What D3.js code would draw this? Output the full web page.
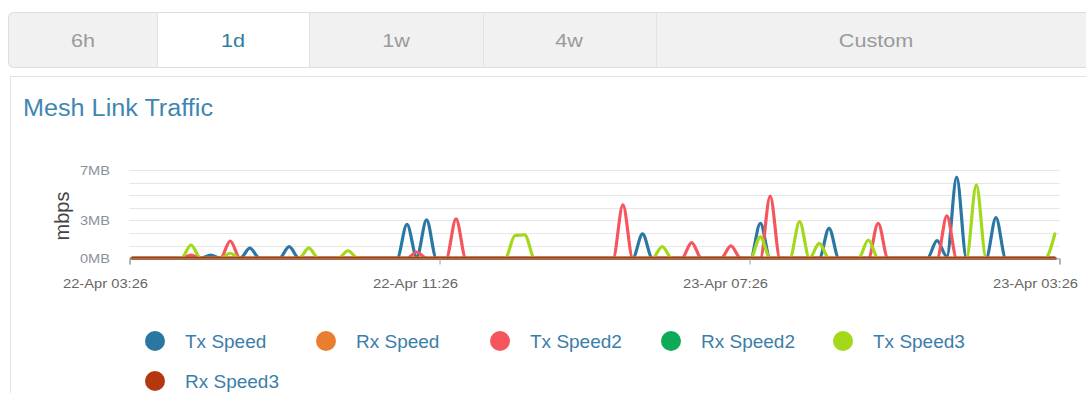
<!DOCTYPE html>
<html>
<head>
<meta charset="utf-8">
<script src="https://cdn.jsdelivr.net/npm/d3@7"></script>
<style>
  html, body { margin: 0; padding: 0; background: #fff; }
  svg { display: block; font-family: "Liberation Sans", Arial, sans-serif; }
</style>
</head>
<body>
<svg id="view" width="1086" height="393"></svg>
<script>
// ---- data ----
const tabs = ["6h", "1d", "1w", "4w", "Custom"];
const activeTab = "1d";

const seriesNames = ["Tx Speed", "Rx Speed", "Tx Speed2", "Rx Speed2", "Tx Speed3", "Rx Speed3"];
const seriesColors = ["#2a77a3", "#e97d30", "#f5565e", "#0dab57", "#a3d81b", "#b5370f"];

// samples every 912 s starting 22-Apr 03:30 (MB)
const sampleStart = "22-Apr 03:30";
const sampleStepSeconds = 912;

const txSpeed = [
  0, 0, 0, 0, 0, 0, 0, 0, 0.25, 0,
  0, 0, 0.8, 0, 0, 0, 0.92, 0, 0, 0,
  0, 0, 0, 0, 0, 0, 0, 0, 2.7, 0.1,
  3.04, 0, 0, 0, 0, 0, 0, 0, 0, 0,
  0, 0, 0, 0, 0, 0, 0, 0, 0, 0,
  0, 0, 1.93, 0, 0, 0, 0, 0, 0, 0,
  0, 0, 0, 0, 2.78, 0, 0, 0, 0, 0,
  0, 2.38, 0, 0, 0, 0, 0, 0, 0, 0,
  0, 0, 1.4, 0.15, 6.43, 0, 0, 0, 3.22, 0,
  0, 0, 0, 0, 0
];
const rxSpeed = [
  0, 0, 0, 0, 0, 0, 0, 0, 0, 0,
  0, 0, 0, 0, 0, 0, 0, 0, 0, 0,
  0, 0, 0, 0, 0, 0, 0, 0, 0, 0,
  0, 0, 0, 0, 0, 0, 0, 0, 0, 0,
  0, 0, 0, 0, 0, 0, 0, 0, 0, 0,
  0, 0, 0, 0, 0, 0, 0, 0, 0, 0,
  0, 0, 0, 0, 0, 0, 0, 0, 0, 0,
  0, 0, 0, 0, 0, 0, 0, 0, 0, 0,
  0, 0, 0, 0, 0, 0, 0, 0, 0, 0,
  0, 0, 0, 0, 0
];
const txSpeed2 = [
  0, 0, 0, 0, 0, 0, 0.25, 0, 0, 0,
  1.37, 0, 0, 0, 0, 0, 0, 0, 0, 0,
  0, 0, 0, 0, 0, 0, 0, 0, 0, 0.5,
  0, 0, 0, 3.12, 0, 0, 0, 0, 0, 0,
  0, 0, 0, 0, 0, 0, 0, 0, 0, 0,
  4.23, 0, 0, 0, 0, 0, 0, 1.24, 0, 0,
  0, 0.98, 0, 0, 0, 4.94, 0, 0, 0, 0,
  0, 0, 0, 0, 0, 0, 2.78, 0, 0, 0,
  0, 0, 0, 3.36, 0, 0, 0, 0, 0, 0,
  0, 0, 0, 0, 0
];
const rxSpeed2 = [
  0, 0, 0, 0, 0, 0, 0, 0, 0, 0,
  0, 0, 0, 0, 0, 0, 0, 0, 0, 0,
  0, 0, 0, 0, 0, 0, 0, 0, 0, 0,
  0, 0, 0, 0, 0, 0, 0, 0, 0, 0,
  0, 0, 0, 0, 0, 0, 0, 0, 0, 0,
  0, 0, 0, 0, 0, 0, 0, 0, 0, 0,
  0, 0, 0, 0, 0, 0, 0, 0, 0, 0,
  0, 0, 0, 0, 0, 0, 0, 0, 0, 0,
  0, 0, 0, 0, 0, 0, 0, 0, 0, 0,
  0, 0, 0, 0, 0
];
const txSpeed3 = [
  0, 0, 0, 0, 0, 0, 1.05, 0, 0, 0,
  0.4, 0, 0, 0, 0, 0, 0, 0, 0.8, 0,
  0, 0, 0.6, 0, 0, 0, 0, 0, 0, 0,
  0, 0, 0, 0, 0, 0, 0, 0, 0, 1.8,
  1.85, 0, 0, 0, 0, 0, 0, 0, 0, 0,
  0, 0, 0, 0, 0.92, 0, 0, 0, 0, 0,
  0, 0, 0, 0, 1.7, 0, 0, 0, 2.9, 0,
  1.19, 0, 0, 0, 0, 1.45, 0, 0, 0, 0,
  0, 0, 0, 0, 0, 0, 5.82, 0, 0, 0,
  0, 0, 0, 0, 1.93
];
const rxSpeed3 = [
  0, 0, 0, 0, 0, 0, 0, 0, 0, 0,
  0, 0, 0, 0, 0, 0, 0, 0, 0, 0,
  0, 0, 0, 0, 0, 0, 0, 0, 0, 0,
  0, 0, 0, 0, 0, 0, 0, 0, 0, 0,
  0, 0, 0, 0, 0, 0, 0, 0, 0, 0,
  0, 0, 0, 0, 0, 0, 0, 0, 0, 0,
  0, 0, 0, 0, 0, 0, 0, 0, 0, 0,
  0, 0, 0, 0, 0, 0, 0, 0, 0, 0,
  0, 0, 0, 0, 0, 0, 0, 0, 0, 0,
  0, 0, 0, 0, 0
];
const seriesValues = [txSpeed, rxSpeed, txSpeed2, rxSpeed2, txSpeed3, rxSpeed3];

const xDomain = ["22-Apr 03:26", "23-Apr 03:26"];
const xTickTimes = ["22-Apr 03:26", "22-Apr 11:26", "22-Apr 19:26", "23-Apr 03:26"];
const xTickLabels = ["22-Apr 03:26", "22-Apr 11:26", "23-Apr 07:26", "23-Apr 03:26"];
const yGridValues = [0, 1, 2, 3, 4, 5, 6, 7];
const yLabelValues = [0, 3, 7];
const yMax = 7;

// ---- layout ----
const svg = d3.select("#view");
const parse = d3.timeParse("%d-%b %H:%M");

// tab bar
const tabEdges = [8, 157, 309, 483, 656, 1100];
const tabCenters = [83, 233, 396, 569, 876];
const tabG = svg.append("g");
tabG.append("rect")
  .attr("x", 8.5).attr("y", 12.5).attr("width", 1100).attr("height", 55)
  .attr("rx", 5).attr("fill", "#f1f1f1").attr("stroke", "#dedede");
tabs.forEach((t, i) => {
  const x0 = tabEdges[i], x1 = tabEdges[i + 1];
  if (t === activeTab) {
    tabG.append("rect").attr("x", x0).attr("y", 13).attr("width", x1 - x0).attr("height", 54)
      .attr("fill", "#fff");
  }
  if (i > 0) {
    tabG.append("line").attr("x1", x0 + 0.5).attr("x2", x0 + 0.5).attr("y1", 13).attr("y2", 67)
      .attr("stroke", "#e2e2e2");
  }
  tabG.append("text")
    .attr("transform", `translate(${tabCenters[i]},47) scale(1.2,1)`)
    .attr("text-anchor", "middle")
    .attr("font-size", 18)
    .attr("fill", t === activeTab ? "#2f7d9c" : "#9a9a9a")
    .text(t);
});

// panel
svg.append("rect")
  .attr("x", 10.5).attr("y", 76.5).attr("width", 1100).attr("height", 400)
  .attr("fill", "#fff").attr("stroke", "#e3e3e3");

svg.append("text")
  .attr("x", 23).attr("y", 116)
  .attr("font-size", 23.5).attr("fill", "#3f87b3")
  .attr("textLength", 190).attr("lengthAdjust", "spacingAndGlyphs")
  .text("Mesh Link Traffic");

// scales
const x = d3.scaleTime().domain(xDomain.map(parse)).range([129.5, 1059.5]);
const y = d3.scaleLinear().domain([0, yMax]).range([258.3, 170]);

// gridlines
svg.append("g")
  .selectAll("line")
  .data(yGridValues)
  .join("line")
  .attr("x1", x.range()[0]).attr("x2", x.range()[1])
  .attr("y1", d => Math.round(y(d)) + 0.5).attr("y2", d => Math.round(y(d)) + 0.5)
  .attr("stroke", "#e6e6e6");

// y labels
const yAxis = d3.axisLeft(y).tickValues(yLabelValues).tickSize(0).tickPadding(0)
  .tickFormat(d => d + "MB");
const yG = svg.append("g").attr("transform", "translate(110,0)").call(yAxis);
yG.select(".domain").remove();
yG.selectAll("text").attr("font-size", 13).attr("fill", "#8a939c")
  .attr("font-family", "Liberation Sans, Arial, sans-serif").attr("dy", "0.32em")
  .attr("textLength", 30).attr("lengthAdjust", "spacingAndGlyphs");

svg.append("text")
  .attr("transform", "translate(69,216) rotate(-90)")
  .attr("text-anchor", "middle")
  .attr("font-size", 20).attr("fill", "#444")
  .text("mbps");

// series lines
const t0 = parse(sampleStart);
const line = d3.line()
  .x((d, i) => x(new Date(t0.getTime() + i * sampleStepSeconds * 1000)))
  .y(d => y(d))
  .curve(d3.curveMonotoneX);

svg.append("g")
  .selectAll("path")
  .data(seriesValues)
  .join("path")
  .attr("d", d => line(d))
  .attr("fill", "none")
  .attr("stroke", (d, i) => seriesColors[i])
  .attr("stroke-width", 3.2)
  .attr("stroke-linejoin", "round")
  .attr("stroke-linecap", "round");

// x axis
const xAxis = d3.axisBottom(x)
  .tickValues(xTickTimes.map(parse))
  .tickSize(6).tickPadding(14)
  .tickFormat((d, i) => xTickLabels[i]);
const xG = svg.append("g").attr("transform", "translate(0,258.5)").call(xAxis);
xG.select(".domain").attr("stroke", "#9a9a9a");
xG.selectAll(".tick line").attr("stroke", "#9a9a9a");
xG.selectAll("text").attr("font-size", 13).attr("fill", "#666")
  .attr("font-family", "Liberation Sans, Arial, sans-serif")
  .attr("text-anchor", "start").attr("x", -67)
  .attr("textLength", 85).attr("lengthAdjust", "spacingAndGlyphs");

// legend
const legendPos = [[155, 341], [326, 341], [500, 341], [671, 341], [843, 341], [155, 381]];
const lg = svg.append("g")
  .selectAll("g")
  .data(seriesNames)
  .join("g")
  .attr("transform", (d, i) => `translate(${legendPos[i][0]},${legendPos[i][1]})`);
lg.append("circle").attr("r", 10).attr("fill", (d, i) => seriesColors[i]);
lg.append("text")
  .attr("x", 30).attr("dy", "0.35em")
  .attr("font-size", 19).attr("fill", "#3a7ea9")
  .text(d => d);
</script>
</body>
</html>
